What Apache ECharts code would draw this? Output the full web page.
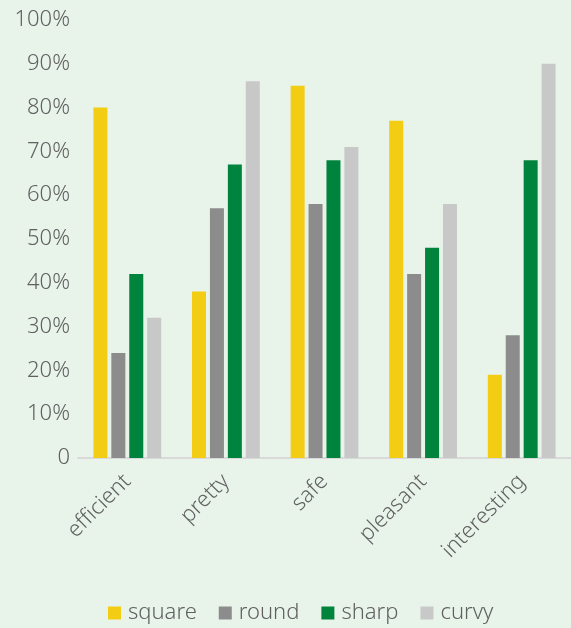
<!DOCTYPE html>
<html><head><meta charset="utf-8">
<script src="https://cdn.jsdelivr.net/npm/echarts@6/dist/echarts.min.js"></script>
<style>html,body{margin:0;padding:0;background:#e8f3ea;}#c{width:571px;height:628px;}</style>
</head><body><div id="c"></div>
<script>
const categories = ['efficient','pretty','safe','pleasant','interesting'];
const seriesNames = ['square','round','sharp','curvy'];
const square = [80, 38, 85, 77, 19];
const round = [24, 57, 58, 42, 28];
const sharp = [42, 67, 68, 48, 68];
const curvy = [32, 86, 71, 58, 90];
const colors = ['#f2cd14','#8c8c8c','#00843d','#c8c8c8'];
const values = [square, round, sharp, curvy];
const font = '"Noto Sans", "Open Sans", sans-serif';
const chart = echarts.init(document.getElementById('c'));
chart.setOption({
  backgroundColor: '#e8f3ea',
  animation: false,
  grid: {left: 78, right: 0, top: 20, bottom: 170},
  legend: {
    top: 597, left: 103, itemWidth: 13, itemHeight: 13, itemGap: 22,
    icon: 'rect',
    textStyle: {fontFamily: font, fontSize: 22, fontWeight: 300, color: '#606060', padding: [0,0,0,2]},
    data: seriesNames
  },
  xAxis: {
    type: 'category', data: categories,
    axisLine: {lineStyle: {color: '#d9d9d9', width: 2}},
    axisTick: {show: false},
    axisLabel: {rotate: 45, margin: 20, fontFamily: font, fontSize: 22, fontWeight: 300, color: '#606060'}
  },
  yAxis: {
    type: 'value', min: 0, max: 100, interval: 10,
    axisLine: {show: false}, axisTick: {show: false}, splitLine: {show: false},
    axisLabel: {margin: 8, fontFamily: font, fontSize: 22, fontWeight: 300, color: '#606060',
      formatter: v => v === 0 ? '0' : v + '%'}
  },
  series: seriesNames.map((n, i) => ({
    name: n, type: 'bar', data: values[i], barWidth: 14, barGap: '28%',
    itemStyle: {color: colors[i]}
  }))
});
</script></body></html>
